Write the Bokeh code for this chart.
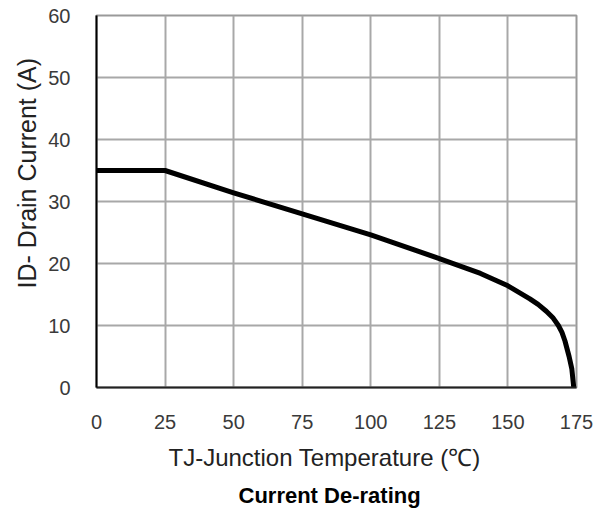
from bokeh.plotting import figure
from bokeh.models import Range1d, FixedTicker, Title
from bokeh.embed import file_html
from bokeh.resources import INLINE

# Data (Tj in degC, Id in A)
temp = [0, 25, 50, 75, 100, 125, 140, 150, 158, 161, 164, 166.5, 168.4, 169.7, 170.8, 172.3, 173.3, 174]
current = [35, 35, 31.4, 28.0, 24.6, 20.8, 18.4, 16.4, 14.3, 13.4, 12.3, 11.2, 10.0, 8.9, 7.5, 5.0, 3.0, 0]

x_ticks = [0, 25, 50, 75, 100, 125, 150, 175]
y_ticks = [0, 10, 20, 30, 40, 50, 60]

x_title = "TJ-Junction Temperature (℃)"
y_title = "ID- Drain Current (A)"
caption = "Current De-rating"

FONT = "Liberation Sans"

p = figure(width=603, height=512, output_backend="svg", toolbar_location=None,
           x_range=Range1d(0, 175), y_range=Range1d(0, 60),
           min_border_left=96, min_border_right=27, min_border_top=15, min_border_bottom=125)
p.background_fill_color = "white"
p.border_fill_color = "white"
p.outline_line_color = "#9a9a9a"
p.outline_line_width = 2

for ax in (p.xaxis[0], p.yaxis[0]):
    ax.major_tick_line_color = None
    ax.minor_tick_line_color = None
    ax.major_label_text_font = FONT
    ax.major_label_text_font_size = "20px"
    ax.major_label_text_color = "#3a3a3a"
    ax.axis_line_width = 2
p.xaxis[0].ticker = FixedTicker(ticks=x_ticks)
p.yaxis[0].ticker = FixedTicker(ticks=y_ticks)
p.xaxis[0].axis_line_color = "#222222"
p.yaxis[0].axis_line_color = "black"
p.xaxis[0].major_label_standoff = 21
p.yaxis[0].major_label_standoff = 20

p.xgrid.grid_line_color = "#a8a8a8"
p.ygrid.grid_line_color = "#a8a8a8"
p.xgrid.grid_line_width = 2
p.ygrid.grid_line_width = 2

p.line(temp, current, line_color="black", line_width=5, line_join="round")

# axis titles and caption as side-panel titles (positionable, never clipped)
p.add_layout(Title(text=y_title, align="left", offset=99, standoff=10,
                   text_font=FONT, text_font_size="25px", text_font_style="normal",
                   text_color="#222222"), "left")
p.add_layout(Title(text=x_title, align="left", offset=72, standoff=21,
                   text_font=FONT, text_font_size="24px", text_font_style="normal",
                   text_color="#222222"), "below")
p.add_layout(Title(text=caption, align="left", offset=142, standoff=-2,
                   text_font=FONT, text_font_size="22px", text_font_style="bold",
                   text_color="black"), "below")

open("out.html", "w").write(file_html(p, INLINE))
